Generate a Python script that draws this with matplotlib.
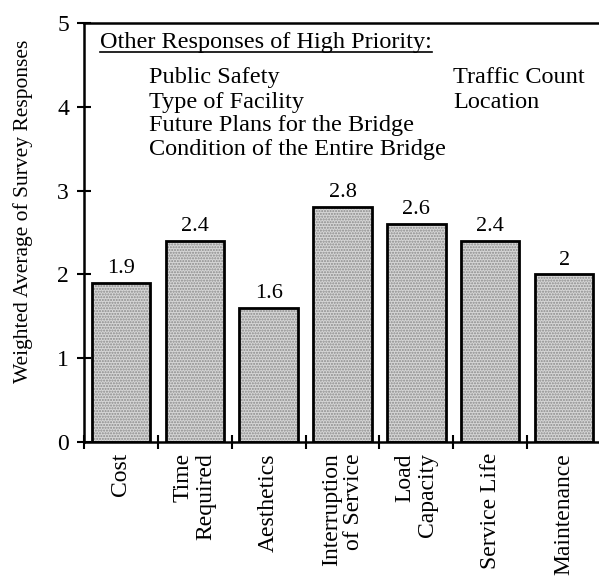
import matplotlib
matplotlib.use("Agg")
import matplotlib.pyplot as plt

categories = ["Cost", "Time\nRequired", "Aesthetics", "Interruption\nof Service",
              "Load\nCapacity", "Service Life", "Maintenance"]
values = [1.9, 2.4, 1.6, 2.8, 2.6, 2.4, 2.0]
value_labels = ["1.9", "2.4", "1.6", "2.8", "2.6", "2.4", "2"]
other_left = ["Public Safety", "Type of Facility", "Future Plans for the Bridge",
              "Condition of the Entire Bridge"]
other_right = ["Traffic Count", "Location"]

plt.rcParams["font.family"] = ["Liberation Serif", "DejaVu Serif"]

W, H = 599, 578
fig = plt.figure(figsize=(W / 100, H / 100), dpi=100)
ax = fig.add_axes([84 / W, 136 / H, (601 - 84) / W, (442 - 23) / H])

x = [i + 0.5 for i in range(len(values))]
ax.bar(x, values, width=0.79, color="#d6d6d6", edgecolor="#8a8a8a",
       linewidth=0, hatch="......")
ax.bar(x, values, width=0.79, fill=False, edgecolor="black", linewidth=2)

for xi, v, lab in zip(x, values, value_labels):
    ax.annotate(lab, (xi, v), xytext=(0, 3.5), textcoords="offset points",
                ha="center", va="bottom", fontsize=16)

ax.set_xlim(0, 7)
ax.set_ylim(0, 5)
ax.set_yticks([0, 1, 2, 3, 4, 5])
ax.set_xticks(range(0, 7))
ax.set_xticklabels([])
ax.set_xticks(x, minor=True)
ax.set_xticklabels(categories, minor=True, rotation=90, fontsize=17,
                   multialignment="right", linespacing=1.1)
ax.tick_params(axis="x", which="minor", length=0, pad=8)
ax.tick_params(axis="both", which="major", direction="inout", length=9.5,
               width=1.5, labelsize=17, pad=6)
ax.spines["right"].set_visible(False)
for s in ["left", "top", "bottom"]:
    ax.spines[s].set_linewidth(1.8)

ax.set_ylabel("Weighted Average of Survey Responses", fontsize=15.5,
              va="center")
ax.yaxis.set_label_coords(-0.118, 0.55)

# list of other high-priority responses (baselines)
tr = ax.get_yaxis_transform()
hdr = ax.text(16 / 517, 4.70, "Other Responses of High Priority:",
              transform=tr, fontsize=17.5, va="baseline")
fig.canvas.draw()
bb_ax = hdr.get_window_extent().transformed(ax.transAxes.inverted())
ax.plot([bb_ax.x0, bb_ax.x1], [4.655, 4.655], color="black",
        linewidth=1.2, transform=tr, clip_on=False)

ys = [4.284, 3.986, 3.711, 3.425]
for yy, t in zip(ys, other_left):
    ax.text(65 / 517, yy, t, transform=tr, fontsize=17.5, va="baseline")
for yy, t in zip(ys, other_right):
    ax.text(369 / 517, yy, t, transform=tr, fontsize=17.5, va="baseline")

fig.savefig("out.png", dpi=100)
